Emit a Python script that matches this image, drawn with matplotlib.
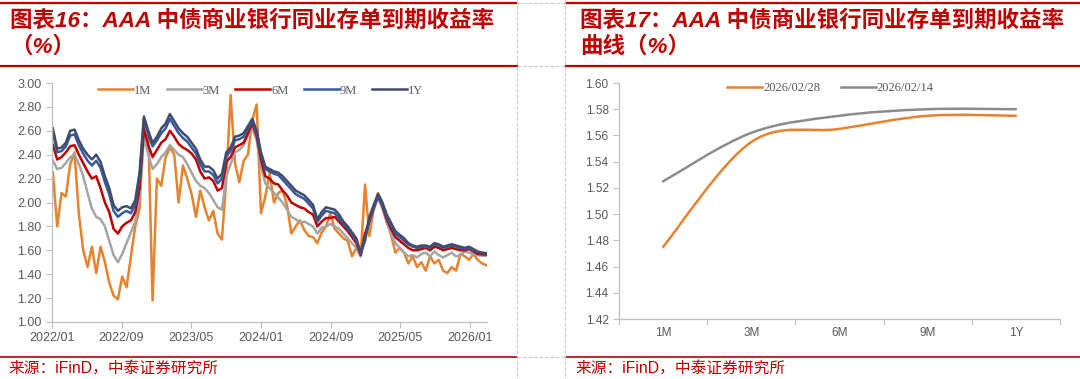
import numpy as np
import pandas as pd
import matplotlib
matplotlib.use("Agg")
import matplotlib.pyplot as plt
from matplotlib.path import Path
from matplotlib.patches import PathPatch
from matplotlib.lines import Line2D

# ---------------- 图表16: AAA NCD yields (semi-monthly) ----------------
start_date = "2022-01-04"
end_date = "2026-02-27"

yield_1m = [2.25, 1.80, 2.08, 2.05, 2.32, 2.42, 1.90, 1.60, 1.46, 1.63,
            1.41, 1.63, 1.50, 1.33, 1.22, 1.19, 1.38, 1.29, 1.55, 1.80,
            1.95, 2.66, 2.60, 1.18, 2.20, 2.14, 2.38, 2.46, 2.40, 2.00,
            2.31, 2.20, 2.07, 1.88, 2.10, 1.96, 1.85, 1.93, 1.74, 1.69,
            2.20, 2.90, 2.33, 2.17, 2.35, 2.40, 2.69, 2.82, 1.91, 2.05,
            2.25, 2.00, 2.08, 2.10, 1.98, 1.74, 1.80, 1.85, 1.77, 1.72,
            1.71, 1.66, 1.75, 1.80, 1.91, 1.78, 1.74, 1.70, 1.68, 1.55,
            1.62, 1.55, 2.15, 1.72, 1.95, 2.08, 2.00, 1.85, 1.73, 1.58,
            1.62, 1.58, 1.49, 1.55, 1.46, 1.50, 1.43, 1.55, 1.49, 1.52,
            1.43, 1.41, 1.46, 1.43, 1.57, 1.55, 1.52, 1.57, 1.52, 1.49,
            1.475]

yield_3m = [2.35, 2.28, 2.29, 2.33, 2.38, 2.40, 2.32, 2.22, 2.08, 1.95,
            1.88, 1.86, 1.80, 1.68, 1.56, 1.50, 1.57, 1.66, 1.75, 1.84,
            2.05, 2.55, 2.40, 2.28, 2.32, 2.38, 2.42, 2.48, 2.44, 2.40,
            2.38, 2.32, 2.25, 2.18, 2.14, 2.12, 2.08, 2.02, 1.96, 1.94,
            2.22, 2.32, 2.42, 2.44, 2.48, 2.56, 2.62, 2.52, 2.30, 2.16,
            2.12, 2.08, 2.04, 2.00, 1.94, 1.88, 1.86, 1.83, 1.84, 1.82,
            1.80, 1.74, 1.79, 1.80, 1.82, 1.80, 1.78, 1.74, 1.70, 1.66,
            1.62, 1.55, 1.72, 1.82, 1.94, 2.04, 1.95, 1.83, 1.74, 1.66,
            1.62, 1.58, 1.55, 1.56, 1.54, 1.57, 1.58, 1.55, 1.59, 1.56,
            1.54, 1.56, 1.58, 1.55, 1.56, 1.59, 1.58, 1.57, 1.56, 1.555,
            1.555]

yield_6m = [2.48, 2.36, 2.38, 2.42, 2.47, 2.48, 2.40, 2.33, 2.26, 2.20,
            2.22, 2.12, 2.00, 1.92, 1.78, 1.74, 1.80, 1.83, 1.85, 1.92,
            2.12, 2.62, 2.48, 2.38, 2.44, 2.50, 2.53, 2.60, 2.55, 2.49,
            2.46, 2.44, 2.41, 2.36, 2.26, 2.20, 2.21, 2.18, 2.10, 2.12,
            2.34, 2.38, 2.46, 2.48, 2.50, 2.58, 2.66, 2.56, 2.36, 2.22,
            2.20, 2.16, 2.15, 2.10, 2.06, 2.00, 1.98, 1.96, 1.95, 1.92,
            1.90, 1.80, 1.84, 1.87, 1.87, 1.88, 1.84, 1.80, 1.76, 1.71,
            1.66, 1.56, 1.74, 1.84, 1.95, 2.06, 1.97, 1.86, 1.78, 1.71,
            1.68, 1.65, 1.62, 1.60, 1.60, 1.61, 1.62, 1.60, 1.63, 1.62,
            1.60, 1.61, 1.62, 1.61, 1.60, 1.60, 1.61, 1.59, 1.57, 1.566,
            1.564]

yield_9m = [2.58, 2.42, 2.43, 2.47, 2.56, 2.57, 2.48, 2.41, 2.35, 2.31,
            2.35, 2.29, 2.17, 2.07, 1.93, 1.88, 1.91, 1.93, 1.91, 1.98,
            2.21, 2.70, 2.57, 2.47, 2.52, 2.58, 2.62, 2.70, 2.64, 2.58,
            2.54, 2.51, 2.46, 2.41, 2.32, 2.26, 2.26, 2.23, 2.16, 2.20,
            2.39, 2.43, 2.52, 2.53, 2.55, 2.62, 2.68, 2.58, 2.40, 2.28,
            2.26, 2.24, 2.23, 2.19, 2.15, 2.11, 2.07, 2.05, 2.03, 1.99,
            1.95, 1.84, 1.89, 1.93, 1.92, 1.91, 1.87, 1.82, 1.78, 1.73,
            1.68, 1.57, 1.68, 1.86, 1.96, 2.05, 1.98, 1.88, 1.81, 1.74,
            1.71, 1.68, 1.65, 1.63, 1.62, 1.63, 1.63, 1.62, 1.65, 1.64,
            1.62, 1.63, 1.64, 1.63, 1.62, 1.61, 1.62, 1.60, 1.585, 1.578,
            1.575]

yield_1y = [2.62, 2.45, 2.46, 2.50, 2.60, 2.61, 2.52, 2.45, 2.40, 2.36,
            2.40, 2.34, 2.22, 2.12, 1.98, 1.93, 1.96, 1.97, 1.95, 2.02,
            2.25, 2.72, 2.60, 2.50, 2.55, 2.62, 2.66, 2.74, 2.68, 2.62,
            2.58, 2.55, 2.50, 2.45, 2.36, 2.30, 2.30, 2.27, 2.20, 2.24,
            2.42, 2.46, 2.55, 2.56, 2.58, 2.64, 2.70, 2.60, 2.42, 2.30,
            2.28, 2.26, 2.25, 2.22, 2.18, 2.14, 2.10, 2.08, 2.06, 2.02,
            1.98, 1.86, 1.92, 1.96, 1.95, 1.94, 1.90, 1.84, 1.80, 1.75,
            1.70, 1.58, 1.70, 1.88, 1.98, 2.07, 2.00, 1.90, 1.83, 1.76,
            1.73, 1.70, 1.66, 1.64, 1.63, 1.64, 1.64, 1.63, 1.66, 1.65,
            1.63, 1.64, 1.65, 1.64, 1.63, 1.62, 1.63, 1.61, 1.59, 1.58,
            1.575]

series_labels = ["1M", "3M", "6M", "9M", "1Y"]
series_colors = ["#E7822F", "#A5A5A5", "#C00000", "#345AA3", "#414D68"]
date_ticks = ["2022-01-01", "2022-09-01", "2023-05-01", "2024-01-01",
              "2024-09-01", "2025-05-01", "2026-01-01"]
date_tick_labels = ["2022/01", "2022/09", "2023/05", "2024/01",
                    "2024/09", "2025/05", "2026/01"]

# ---------------- 图表17: yield curve ----------------
tenors = ["1M", "3M", "6M", "9M", "1Y"]
curve_0228 = [1.475, 1.555, 1.565, 1.575, 1.575]
curve_0214 = [1.525, 1.562, 1.575, 1.580, 1.580]
curve_labels = ["2026/02/28", "2026/02/14"]
curve_colors = ["#E7822F", "#8C8C8C"]

RED = "#C00000"
TICK_GRAY = "#595959"
SPINE_GRAY = "#BFBFBF"
CJK = ["Liberation Sans", "Noto Sans CJK SC", "DejaVu Sans"]
SERIF = ["Liberation Serif", "DejaVu Serif"]

plt.rcParams["font.family"] = ["Liberation Sans", "Noto Sans CJK SC", "DejaVu Sans"]

W, H = 1080, 379
fig = plt.figure(figsize=(W / 100, H / 100), dpi=100)

# background layer in pixel coordinates for headers, rules and frame lines
bg = fig.add_axes([0, 0, 1, 1], zorder=-1)
bg.set_xlim(0, W)
bg.set_ylim(H, 0)
bg.axis("off")

for x0, x1 in [(0, 517), (566, W)]:
    bg.plot([x0, x1], [3, 3], color=RED, lw=1.6)
    bg.plot([x0, x1], [66, 66], color=RED, lw=1.6)
    bg.plot([x0, x1], [357, 357], color=RED, lw=1.2)
for xv in [517, 565]:
    bg.plot([xv, xv], [0, H], color="#C8C8C8", lw=0.8, ls=(0, (3, 2)))
for yv in [3, 66, 357]:
    bg.plot([517, 565], [yv, yv], color="#C8C8C8", lw=0.8, ls=(0, (3, 2)))

title_kw = dict(color=RED, fontsize=16.2, fontweight="bold", style="italic",
                family=CJK, va="center", ha="left")
bg.text(10, 21, "图表16：AAA 中债商业银行同业存单到期收益率", **title_kw)
bg.text(10, 47, "（%）", **title_kw)
bg.text(580, 21, "图表17：AAA 中债商业银行同业存单到期收益率", **title_kw)
bg.text(580, 47, "曲线（%）", **title_kw)

src_kw = dict(color=RED, fontsize=11.3, family=CJK, va="center", ha="left")
bg.text(8, 368, "来源：iFinD，中泰证券研究所", **src_kw)
bg.text(575, 368, "来源：iFinD，中泰证券研究所", **src_kw)


def style_axes(ax, size):
    for side in ["top", "right"]:
        ax.spines[side].set_visible(False)
    for side in ["left", "bottom"]:
        ax.spines[side].set_color(SPINE_GRAY)
        ax.spines[side].set_linewidth(0.9)
    ax.tick_params(axis="both", colors=SPINE_GRAY, labelcolor=TICK_GRAY,
                   labelsize=size, length=4, width=0.8, direction="out")
    ax.set_facecolor("none")


# ---------------- left chart ----------------
ax1 = fig.add_axes([52 / W, 1 - 322 / H, 435 / W, 239 / H])
dates = pd.date_range(start_date, end_date, periods=len(yield_1y))
all_series = [yield_1m, yield_3m, yield_6m, yield_9m, yield_1y]
for vals, lab, col in zip(all_series, series_labels, series_colors):
    ax1.plot(dates, vals, color=col, lw=1.8, label=lab, solid_joinstyle="round")

ax1.set_xlim(pd.Timestamp("2022-01-01"), pd.Timestamp("2026-03-01"))
ax1.set_ylim(1.0, 3.0)
ax1.set_yticks(np.arange(1.0, 3.01, 0.2))
ax1.set_yticklabels([f"{v:.2f}" for v in np.arange(1.0, 3.01, 0.2)])
ax1.set_xticks(pd.to_datetime(date_ticks))
ax1.set_xticklabels(date_tick_labels)
style_axes(ax1, 9)
leg1 = ax1.legend(loc="upper center", bbox_to_anchor=(0.48, 1.04), ncol=5,
                  frameon=False, handlelength=2.8, handletextpad=0.1,
                  columnspacing=1.2, prop={"family": SERIF, "size": 9})
for t in leg1.get_texts():
    t.set_color(TICK_GRAY)


# ---------------- right chart ----------------
def smooth_path(xs, ys):
    pts = np.column_stack([xs, ys]).astype(float)
    n = len(pts)
    verts = [pts[0]]
    codes = [Path.MOVETO]
    for i in range(n - 1):
        p0 = pts[max(i - 1, 0)]
        p1 = pts[i]
        p2 = pts[i + 1]
        p3 = pts[min(i + 2, n - 1)]
        verts += [p1 + (p2 - p0) / 6, p2 - (p3 - p1) / 6, p2]
        codes += [Path.CURVE4] * 3
    return Path(verts, codes)


ax2 = fig.add_axes([619 / W, 1 - 319 / H, 441 / W, 236 / H])
xpos = np.arange(len(tenors))
handles = []
for vals, lab, col in zip([curve_0228, curve_0214], curve_labels, curve_colors):
    ax2.add_patch(PathPatch(smooth_path(xpos, vals), fill=False, edgecolor=col,
                            lw=1.8, capstyle="round"))
    handles.append(Line2D([], [], color=col, lw=1.8, label=lab))

ax2.set_xlim(-0.5, len(tenors) - 0.5)
ax2.set_ylim(1.42, 1.60)
ax2.set_yticks(np.arange(1.42, 1.601, 0.02))
ax2.set_yticklabels([f"{v:.2f}" for v in np.arange(1.42, 1.601, 0.02)])
ax2.set_xticks(np.arange(-0.5, len(tenors)), minor=False)
ax2.set_xticklabels([""] * (len(tenors) + 1))
ax2.set_xticks(xpos, minor=True)
ax2.set_xticklabels(tenors, minor=True)
style_axes(ax2, 8.5)
ax2.tick_params(axis="x", which="minor", length=0, labelsize=8.5,
                labelcolor=TICK_GRAY, pad=6)
leg2 = ax2.legend(handles=handles, loc="upper center", bbox_to_anchor=(0.48, 1.05),
                  ncol=2, frameon=False, handlelength=2.8, handletextpad=0.1,
                  columnspacing=1.6, prop={"family": SERIF, "size": 9})
for t in leg2.get_texts():
    t.set_color(TICK_GRAY)

fig.savefig("out.png", dpi=100)
